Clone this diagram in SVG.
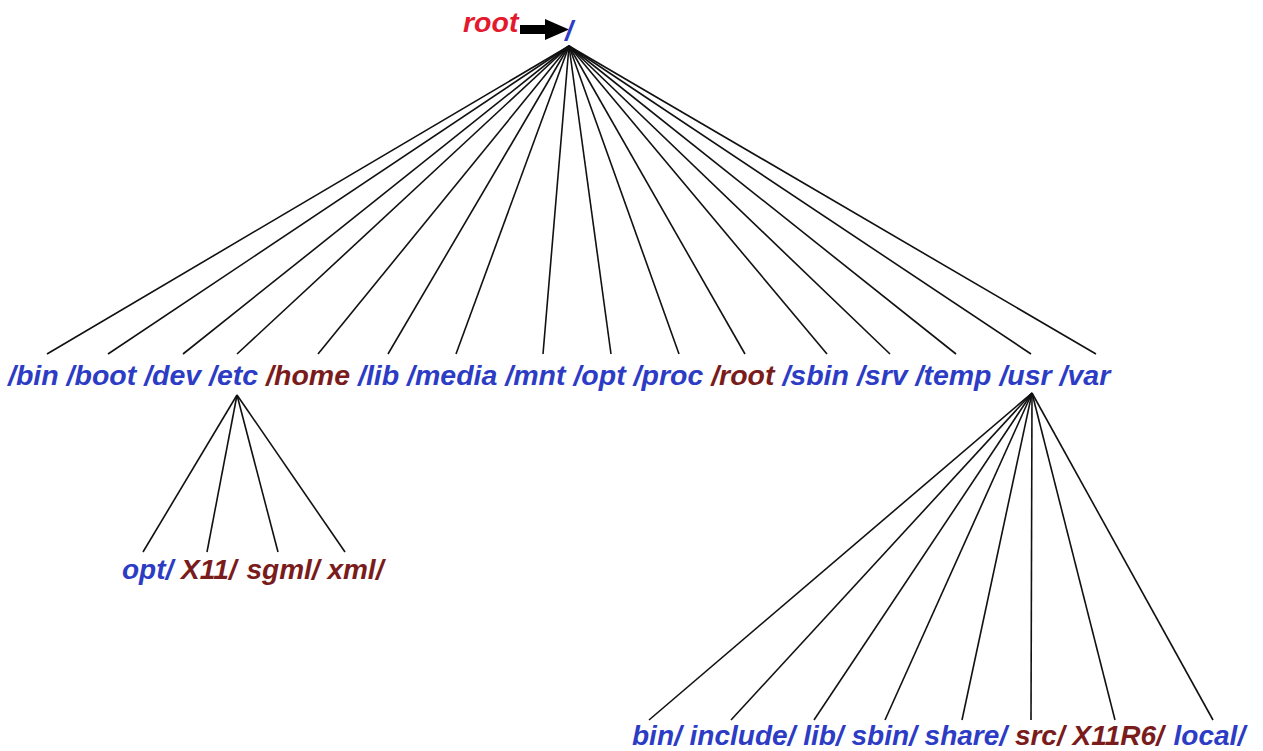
<svg xmlns="http://www.w3.org/2000/svg" width="1263" height="751" viewBox="0 0 1263 751">
<style>
text{font-family:"Liberation Sans",Arial,sans-serif;font-weight:bold;font-style:italic}
.t{font-size:28.5px}
.s{font-size:28px}
.b{fill:#2d3cc4}
.r{fill:#7a1c1c}
.red{fill:#e3192e}
.ln line{stroke:#111;stroke-width:1.6}
</style>
<rect width="1263" height="751" fill="#fff"/>
<g id="connectors" class="ln">
<g id="root-fan">
<line x1="569" y1="46" x2="47" y2="354"/>
<line x1="569" y1="46" x2="108" y2="354"/>
<line x1="569" y1="46" x2="183" y2="354"/>
<line x1="569" y1="46" x2="237" y2="354"/>
<line x1="569" y1="46" x2="318" y2="354"/>
<line x1="569" y1="46" x2="388" y2="354"/>
<line x1="569" y1="46" x2="456" y2="354"/>
<line x1="569" y1="46" x2="543" y2="354"/>
<line x1="569" y1="46" x2="611" y2="354"/>
<line x1="569" y1="46" x2="679" y2="354"/>
<line x1="569" y1="46" x2="745" y2="354"/>
<line x1="569" y1="46" x2="827" y2="354"/>
<line x1="569" y1="46" x2="890" y2="354"/>
<line x1="569" y1="46" x2="956" y2="354"/>
<line x1="569" y1="46" x2="1031" y2="354"/>
<line x1="569" y1="46" x2="1096" y2="354"/>
</g>
<g id="etc-fan">
<line x1="237" y1="395" x2="143" y2="552"/>
<line x1="237" y1="395" x2="207" y2="552"/>
<line x1="237" y1="395" x2="278" y2="552"/>
<line x1="237" y1="395" x2="345" y2="552"/>
</g>
<g id="usr-fan">
<line x1="1032" y1="393" x2="649" y2="720"/>
<line x1="1032" y1="393" x2="731" y2="720"/>
<line x1="1032" y1="393" x2="814" y2="720"/>
<line x1="1032" y1="393" x2="885" y2="720"/>
<line x1="1032" y1="393" x2="962" y2="720"/>
<line x1="1032" y1="393" x2="1031" y2="720"/>
<line x1="1032" y1="393" x2="1115" y2="720"/>
<line x1="1032" y1="393" x2="1213" y2="720"/>
</g>
<g id="root-arrow">
<rect x="520" y="25" width="28" height="9" fill="#000"/>
<polygon points="545,19 569,29.5 545,40" fill="#000"/>
</g>
</g>
<g id="root-label"><text class="t red" x="463" y="32">root</text></g>
<g id="n-slash"><text class="t b" x="565" y="40">/</text></g>
<g id="n-bin"><text class="t b" x="8" y="385">/bin</text></g>
<g id="n-boot"><text class="t b" x="66.6" y="385">/boot</text></g>
<g id="n-dev"><text class="t b" x="144.2" y="385">/dev</text></g>
<g id="n-etc"><text class="t b" x="209.1" y="385">/etc</text></g>
<g id="n-home"><text class="t r" x="266.1" y="385">/home</text></g>
<g id="n-lib"><text class="t b" x="358" y="385">/lib</text></g>
<g id="n-media"><text class="t b" x="407.1" y="385">/media</text></g>
<g id="n-mnt"><text class="t b" x="505.3" y="385">/mnt</text></g>
<g id="n-opt"><text class="t b" x="573.4" y="385">/opt</text></g>
<g id="n-proc"><text class="t b" x="633.6" y="385">/proc</text></g>
<g id="n-root"><text class="t r" x="711.2" y="385">/root</text></g>
<g id="n-sbin"><text class="t b" x="782.4" y="385">/sbin</text></g>
<g id="n-srv"><text class="t b" x="856.9" y="385">/srv</text></g>
<g id="n-temp"><text class="t b" x="915.5" y="385">/temp</text></g>
<g id="n-usr"><text class="t b" x="999.4" y="385">/usr</text></g>
<g id="n-var"><text class="t b" x="1059.6" y="385">/var</text></g>
<g id="n-etc-opt"><text class="s b" x="122" y="579">opt/</text></g>
<g id="n-etc-x11"><text class="s r" x="181.1" y="579">X11/</text></g>
<g id="n-etc-sgml"><text class="s r" x="246.5" y="579">sgml/</text></g>
<g id="n-etc-xml"><text class="s r" x="327.4" y="579">xml/</text></g>
<g id="n-usr-bin"><text class="s b" x="632" y="745">bin/</text></g>
<g id="n-usr-include"><text class="s b" x="689.6" y="745">include/</text></g>
<g id="n-usr-lib"><text class="s b" x="803.2" y="745">lib/</text></g>
<g id="n-usr-sbin"><text class="s b" x="851.5" y="745">sbin/</text></g>
<g id="n-usr-share"><text class="s b" x="924.6" y="745">share/</text></g>
<g id="n-usr-src"><text class="s r" x="1014.9" y="745">src/</text></g>
<g id="n-usr-x11r6"><text class="s r" x="1072.5" y="745">X11R6/</text></g>
<g id="n-usr-local"><text class="s b" x="1173.6" y="745">local/</text></g>
</svg>
